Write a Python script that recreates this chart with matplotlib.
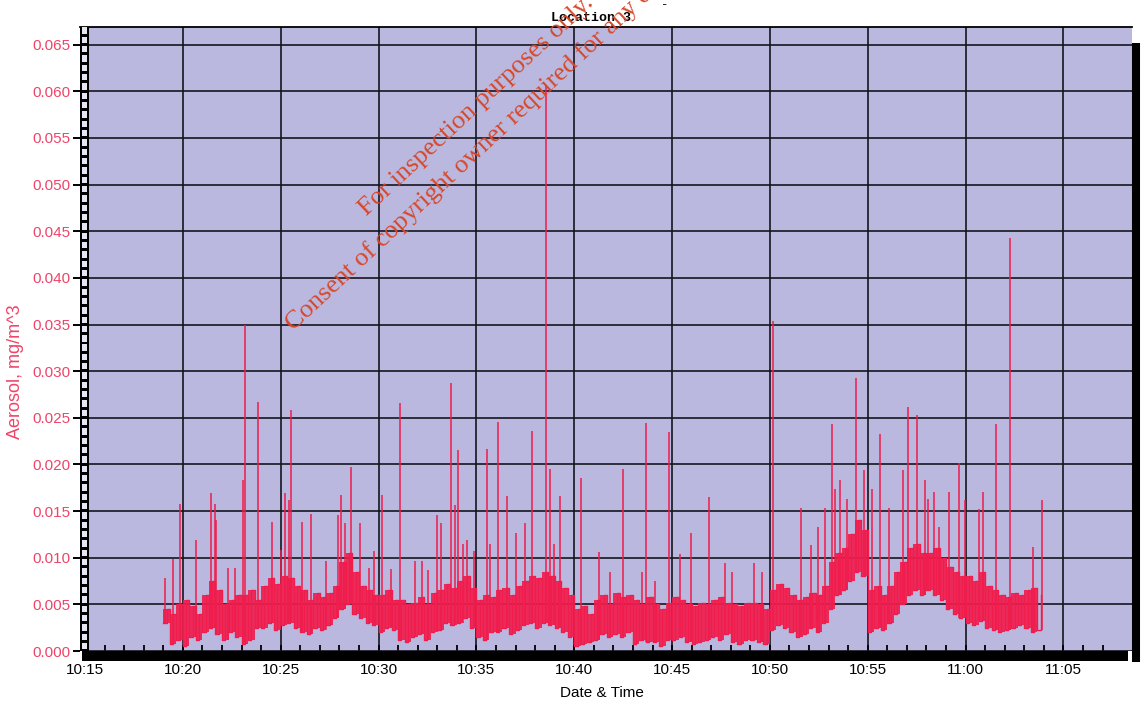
import matplotlib
matplotlib.use("Agg")
import matplotlib.pyplot as plt
import numpy as np

# band of the noisy trace, one low and one high reading per 20 s, from 10:19:00
START = "10:19:00"
BIN_S = 20
band_lo = [
    0.0030, 0.0008, 0.0012,  0.0005, 0.0015, 0.0012,  0.0020, 0.0025, 0.0018,
    0.0012, 0.0020, 0.0015,  0.0008, 0.0012, 0.0025,  0.0025, 0.0030, 0.0022,
    0.0028, 0.0030, 0.0025,  0.0020, 0.0018, 0.0025,  0.0022, 0.0028, 0.0035,
    0.0045, 0.0050, 0.0040,  0.0035, 0.0030, 0.0028,  0.0020, 0.0025, 0.0022,
    0.0012, 0.0010, 0.0015,  0.0018, 0.0012, 0.0020,  0.0022, 0.0030, 0.0028,
    0.0030, 0.0035, 0.0025,  0.0015, 0.0012, 0.0020,  0.0020, 0.0025, 0.0018,
    0.0022, 0.0028, 0.0030,  0.0025, 0.0030, 0.0028,  0.0025, 0.0020, 0.0015,
    0.0005, 0.0008, 0.0010,  0.0012, 0.0018, 0.0015,  0.0018, 0.0015, 0.0020,
    0.0008, 0.0012, 0.0010,  0.0010, 0.0005, 0.0012,  0.0012, 0.0015, 0.0010,
    0.0008, 0.0010, 0.0012,  0.0015, 0.0012, 0.0018,  0.0010, 0.0008, 0.0012,
    0.0012, 0.0010, 0.0008,  0.0022, 0.0028, 0.0025,  0.0020, 0.0015, 0.0018,
    0.0025, 0.0020, 0.0030,  0.0045, 0.0060, 0.0065,  0.0075, 0.0085, 0.0080,
    0.0020, 0.0025, 0.0022,  0.0030, 0.0040, 0.0050,  0.0060, 0.0065, 0.0060,
    0.0065, 0.0060, 0.0055,  0.0045, 0.0040, 0.0035,  0.0030, 0.0028, 0.0032,
    0.0025, 0.0022, 0.0020,  0.0022, 0.0025, 0.0028,  0.0025, 0.0020, 0.0022,
]
band_hi = [
    0.0045, 0.0040, 0.0050,  0.0055, 0.0048, 0.0040,  0.0060, 0.0075, 0.0065,
    0.0050, 0.0055, 0.0060,  0.0060, 0.0065, 0.0055,  0.0070, 0.0078, 0.0072,
    0.0080, 0.0078, 0.0070,  0.0065, 0.0055, 0.0062,  0.0058, 0.0062, 0.0070,
    0.0095, 0.0105, 0.0085,  0.0070, 0.0065, 0.0060,  0.0060, 0.0065, 0.0055,
    0.0055, 0.0050, 0.0052,  0.0058, 0.0050, 0.0062,  0.0065, 0.0072, 0.0068,
    0.0075, 0.0080, 0.0068,  0.0055, 0.0060, 0.0058,  0.0065, 0.0068, 0.0060,
    0.0070, 0.0075, 0.0080,  0.0078, 0.0085, 0.0080,  0.0075, 0.0068, 0.0060,
    0.0045, 0.0048, 0.0040,  0.0055, 0.0060, 0.0050,  0.0062, 0.0058, 0.0060,
    0.0055, 0.0050, 0.0058,  0.0050, 0.0045, 0.0052,  0.0058, 0.0055, 0.0050,
    0.0048, 0.0052, 0.0050,  0.0055, 0.0058, 0.0052,  0.0050, 0.0048, 0.0052,
    0.0052, 0.0050, 0.0045,  0.0065, 0.0072, 0.0068,  0.0060, 0.0055, 0.0058,
    0.0062, 0.0060, 0.0070,  0.0095, 0.0105, 0.0110,  0.0125, 0.0140, 0.0130,
    0.0065, 0.0070, 0.0060,  0.0070, 0.0085, 0.0095,  0.0110, 0.0115, 0.0105,
    0.0105, 0.0110, 0.0100,  0.0090, 0.0085, 0.0080,  0.0080, 0.0075, 0.0085,
    0.0070, 0.0065, 0.0060,  0.0058, 0.0062, 0.0060,  0.0065, 0.0068, 0.0060,
]

# isolated peaks
spike_times = [
    "10:19:05", "10:19:30", "10:19:51", "10:20:39", "10:21:26", "10:21:38",
    "10:21:43", "10:22:19", "10:22:39", "10:23:05", "10:23:10", "10:23:50",
    "10:24:34", "10:25:02", "10:25:12", "10:25:25", "10:25:31", "10:26:04",
    "10:26:32", "10:27:20", "10:27:55", "10:28:06", "10:28:16", "10:28:37",
    "10:29:04", "10:29:30", "10:29:46", "10:30:11", "10:30:37", "10:31:07",
    "10:31:53", "10:32:14", "10:32:31", "10:32:58", "10:33:12", "10:33:43",
    "10:33:53", "10:34:03", "10:34:18", "10:34:30", "10:34:52", "10:35:33",
    "10:35:43", "10:36:05", "10:36:34", "10:37:02", "10:37:29", "10:37:52",
    "10:38:33", "10:38:47", "10:38:59", "10:39:16", "10:40:22", "10:41:17",
    "10:41:49", "10:42:30", "10:43:27", "10:43:41", "10:44:08", "10:44:51",
    "10:45:24", "10:45:57", "10:46:53", "10:47:42", "10:48:05", "10:49:11",
    "10:49:37", "10:50:08", "10:51:34", "10:52:05", "10:52:28", "10:52:48",
    "10:53:11", "10:53:21", "10:53:34", "10:53:56", "10:54:24", "10:54:48",
    "10:55:13", "10:55:37", "10:56:06", "10:56:48", "10:57:04", "10:57:31",
    "10:57:55", "10:58:05", "10:58:22", "10:58:37", "10:59:10", "10:59:41",
    "10:59:57", "11:00:42", "11:00:53", "11:01:34", "11:02:16", "11:03:28",
    "11:03:53",
]
spike_vals = [
    0.0078, 0.0099, 0.0158, 0.0119, 0.0169, 0.0158,
    0.0140, 0.0089, 0.0089, 0.0183, 0.0349, 0.0267,
    0.0138, 0.0108, 0.0169, 0.0162, 0.0258, 0.0138,
    0.0147, 0.0096, 0.0146, 0.0167, 0.0137, 0.0197,
    0.0137, 0.0089, 0.0107, 0.0167, 0.0088, 0.0266,
    0.0096, 0.0096, 0.0087, 0.0146, 0.0137, 0.0287,
    0.0156, 0.0216, 0.0115, 0.0119, 0.0107, 0.0217,
    0.0115, 0.0245, 0.0166, 0.0126, 0.0137, 0.0236,
    0.0606, 0.0195, 0.0115, 0.0166, 0.0185, 0.0106,
    0.0085, 0.0195, 0.0085, 0.0244, 0.0075, 0.0235,
    0.0104, 0.0126, 0.0165, 0.0094, 0.0085, 0.0094,
    0.0085, 0.0354, 0.0153, 0.0114, 0.0133, 0.0153,
    0.0243, 0.0174, 0.0183, 0.0163, 0.0293, 0.0194,
    0.0174, 0.0233, 0.0153, 0.0194, 0.0262, 0.0253,
    0.0183, 0.0163, 0.0170, 0.0133, 0.0170, 0.0202,
    0.0162, 0.0152, 0.0170, 0.0243, 0.0443, 0.0112,
    0.0162,
]

x_ticks = [15, 20, 25, 30, 35, 40, 45, 50, 55, 60, 65]
x_labels = ["10:15", "10:20", "10:25", "10:30", "10:35", "10:40",
            "10:45", "10:50", "10:55", "11:00", "11:05"]
y_ticks = [0.000, 0.005, 0.010, 0.015, 0.020, 0.025, 0.030,
           0.035, 0.040, 0.045, 0.050, 0.055, 0.060, 0.065]

PINK = "#ee4468"
TRACE = "#f01c4c"
PLOT_BG = "#bab8df"


def to_min(s):
    h, m, sec = (int(p) for p in s.split(":"))
    return (h - 10) * 60 + m + sec / 60


def bin_starts():
    return to_min(START) + np.arange(len(band_lo)) * BIN_S / 60


def build_series():
    t_lo = bin_starts()
    t_hi = t_lo + BIN_S / 120
    t = np.concatenate([t_lo, t_hi])
    v = np.concatenate([band_lo, band_hi])
    order = np.argsort(t, kind="stable")
    return t[order], v[order]


def main():
    plt.rcParams["font.family"] = ["Liberation Sans", "DejaVu Sans"]
    fig = plt.figure(figsize=(11.42, 7.08), dpi=100)
    ax = fig.add_axes([0.0700, 0.0805, 0.9212, 0.8814])
    ax.set_facecolor(PLOT_BG)

    # dense core of the trace, the sampled line, then the peaks rising from it
    tb = bin_starts()
    ax.fill_between(tb, band_lo, band_hi, step="post", color=TRACE,
                    alpha=0.9, lw=0, zorder=2)
    t, v = build_series()
    ax.plot(t, v, drawstyle="steps-post", color=TRACE, lw=1.0, zorder=3)

    st = np.array([to_min(s) for s in spike_times])
    idx = np.clip(((st - tb[0]) * 60 // BIN_S).astype(int), 0, len(band_lo) - 1)
    base = np.array(band_lo)[idx]
    ax.vlines(st, base, spike_vals, color=TRACE, lw=1.1, zorder=3)

    ax.set_xlim(14.74, 68.5)
    ax.set_ylim(0, 0.0669)
    ax.set_xticks(x_ticks, x_labels)
    ax.set_xticks(np.arange(15, 68), minor=True)
    ax.set_yticks(y_ticks, [f"{y:.3f}" for y in y_ticks])
    ax.grid(True, which="major", color="#15151f", lw=1.2)
    ax.set_axisbelow(True)

    ax.tick_params(axis="x", which="both", direction="in", length=8, width=1.3,
                   color="black", labelsize=11, pad=5)
    ax.tick_params(axis="y", which="major", direction="out", length=5, width=1.4,
                   color="black", labelsize=11, labelcolor=PINK, pad=2)

    ax.spines["left"].set_visible(False)
    ax.spines["top"].set_linewidth(1.3)
    ax.spines["bottom"].set_linewidth(7.2)
    ax.spines["bottom"].set_position(("outward", 3.6))
    ax.spines["bottom"].set_capstyle("butt")
    ax.spines["bottom"].set_bounds(14.85, 68.3)
    ax.spines["right"].set_linewidth(5.8)
    ax.spines["right"].set_position(("outward", 3.0))
    ax.spines["right"].set_bounds(-0.0012, 0.0652)
    ax.spines["right"].set_capstyle("butt")

    # ladder-style left axis
    ytr = ax.get_yaxis_transform()
    ax.add_patch(plt.Rectangle((0, 0), 0.0086, 0.0669, transform=ytr,
                               facecolor="black", clip_on=False, zorder=5))
    for k in range(67):
        ax.add_patch(plt.Rectangle((0.0019, k * 0.001 + 0.00018), 0.0048, 0.00068,
                                   transform=ytr, facecolor="#e6e6f2",
                                   clip_on=False, zorder=6))

    fig.text(0.0140, 1 - 372 / 708, "Aerosol, mg/m^3", rotation=90, color=PINK,
             ha="center", va="center", fontsize=13)
    fig.text(602 / 1142, 1 - 693 / 708, "Date & Time", ha="center", va="center",
             fontsize=11)
    fig.text(591 / 1142, 1 - 18 / 708, "Location 3", ha="center", va="center",
             fontsize=9.5, fontweight="bold",
             family=["Liberation Mono", "DejaVu Sans Mono"])
    fig.text(665 / 1142, 1 - 5 / 708, "-", ha="center", va="center",
             fontsize=9, family=["Liberation Mono", "DejaVu Sans Mono"])

    wm = dict(rotation=43, rotation_mode="anchor", ha="center", va="center",
              color="#d8482a", fontsize=19, family=["Liberation Serif", "DejaVu Serif"],
              zorder=10)
    fig.text(476 / 1142, 1 - 106 / 708, "For inspection purposes only.", **wm)
    fig.text(502 / 1142, 1 - 128 / 708,
             "Consent of copyright owner required for any other use.", **wm)

    fig.savefig("out.png", dpi=100)


if __name__ == "__main__":
    main()
